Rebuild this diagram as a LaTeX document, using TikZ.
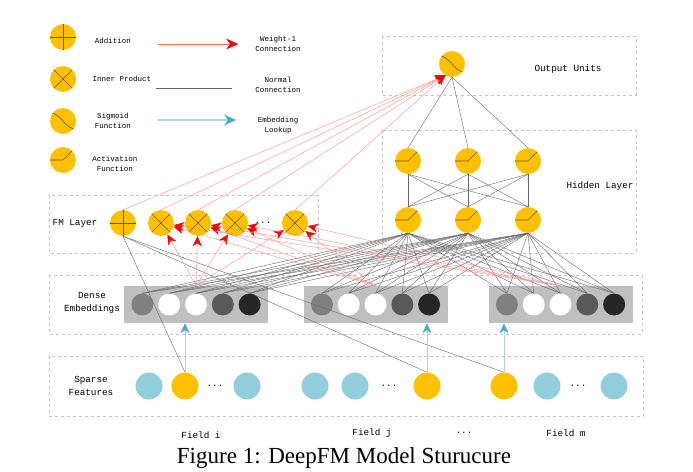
\documentclass[tikz,border=0pt]{standalone}
\usepackage{fontspec}
\setmainfont{Liberation Serif}
\setmonofont{Liberation Mono}
\usetikzlibrary{shapes,positioning,arrows.meta}
\definecolor{unitorange}{RGB}{255,192,0}
\definecolor{unitline}{RGB}{110,85,10}
\definecolor{sparseblue}{RGB}{146,205,220}
\definecolor{lookupblue}{RGB}{75,172,198}
\definecolor{lookupline}{RGB}{170,215,228}
\definecolor{boxgray}{RGB}{195,195,195}
\definecolor{bargray}{RGB}{191,191,191}

\begin{document}
\begin{tikzpicture}[x=1pt, y=-1pt,
         unit/.style={circle, fill=unitorange, minimum size=26pt, inner sep=0pt},
         addunit/.style={unit, path picture={\draw[unitline, line width=0.6pt] (path picture bounding box.west) -- (path picture bounding box.east) (path picture bounding box.north) -- (path picture bounding box.south);}},
         produnit/.style={unit, path picture={\draw[unitline, line width=0.6pt] (path picture bounding box.north west) -- (path picture bounding box.south east) (path picture bounding box.north east) -- (path picture bounding box.south west);}},
         sigunit/.style={unit, path picture={\draw[unitline, line width=0.6pt, shift={(path picture bounding box.center)}] (-13pt,8pt) .. controls (-1pt,8pt) and (1pt,-8pt) .. (13pt,-8pt);}},
         actunit/.style={unit, path picture={\draw[unitline, line width=0.6pt] (path picture bounding box.west) -- (path picture bounding box.center) -- ++(45:15pt);}},
         denseunit/.style={circle, minimum size=22pt, inner sep=0pt},
         sparseunit/.style={circle, minimum size=27pt, inner sep=0pt, fill=sparseblue},
         hotunit/.style={sparseunit, fill=unitorange},
         embbar/.style={fill=bargray, minimum width=144pt, minimum height=37pt, inner sep=0pt},
         layerbox/.style={draw=boxgray, dashed, line width=0.5pt},
         normalline/.style={draw=black!60, line width=0.4pt},
         weightone/.style={draw=red!45, line width=0.4pt, -{Stealth[length=10pt, width=9pt, inset=3pt, color=red]}},
         lookup/.style={draw=lookupline, line width=0.8pt, -{Stealth[length=10pt, width=9pt, inset=3pt, color=lookupblue]}},
         legendtext/.style={font=\ttfamily\fontsize{7.5}{10}\selectfont, align=center},
         labeltext/.style={font=\ttfamily\fontsize{9.3}{13}\selectfont, align=center}]
         \useasboundingbox (0,0) rectangle (693,471);
         \draw [layerbox] (382,36) rectangle (636,95);
         \draw [layerbox] (382,130) rectangle (636,253);
         \draw [layerbox] (49,195) rectangle (318,253);
         \draw [layerbox] (49,275) rectangle (642,334);
         \draw [layerbox] (49,356) rectangle (643,416);

         \node [addunit] (lgadd) at (63,37) {};
         \node [produnit] (lgprod) at (63,79) {};
         \node [sigunit] (lgsig) at (63,121) {};
         \node [actunit] (lgact) at (63,160) {};
         \node [legendtext] (lgaddtext) at (113,41) {Addition};
         \node [legendtext] (lgprodtext) at (122,79) {Inner Product};
         \node [legendtext] (lgsigtext) at (113,121) {Sigmoid\\Function};
         \node [legendtext] (lgacttext) at (115,164) {Activation\\Function};
         \coordinate (wstart) at (158,44);
         \coordinate (wend) at (238,44);
         \coordinate (nstart) at (156,88);
         \coordinate (nend) at (232,88);
         \coordinate (lstart) at (158,120);
         \coordinate (lend) at (236,120);
         \draw [draw=red!60, line width=0.8pt, -{Stealth[length=12pt, width=11pt, inset=4pt, color=red]}] (wstart) -- (wend);
         \draw [draw=black!60, line width=0.8pt] (nstart) -- (nend);
         \draw [draw=lookupline, line width=1.2pt, -{Stealth[length=12pt, width=11pt, inset=4pt, color=lookupblue]}] (lstart) -- (lend);
         \node [legendtext] (wtext) at (278,44) {Weight-1\\Connection};
         \node [legendtext] (ntext) at (278,85) {Normal\\Connection};
         \node [legendtext] (ltext) at (278,126) {Embedding\\Lookup};

         \node [sigunit] (out) at (452,64) {};
         \node [labeltext] (outlabel) at (568,69) {Output Units};
         \node [actunit] (h21) at (408,161) {};
         \node [actunit] (h22) at (468,161) {};
         \node [actunit] (h23) at (528,161) {};
         \node [actunit] (h11) at (408,220) {};
         \node [actunit] (h12) at (468,220) {};
         \node [actunit] (h13) at (528,220) {};
         \node [labeltext] (hiddenlabel) at (600,186) {Hidden Layer};

         \node [labeltext] (fmlabel) at (75,223) {FM Layer};
         \node [addunit] (fmadd) at (123,223) {};
         \node [produnit] (fm1) at (161,223) {};
         \node [produnit] (fm2) at (198,223) {};
         \node [produnit] (fm3) at (235,223) {};
         \node [labeltext] (fmdots) at (263,223) {...};
         \node [produnit] (fm4) at (295,223) {};

         \node [labeltext] (denselabel) at (92,303) {Dense\\Embeddings};
         \node [embbar] (emb1) at (196,304.5) {};
         \node [embbar] (emb2) at (375.5,304.5) {};
         \node [embbar] (emb3) at (560.5,304.5) {};
         \foreach \g in {1,2,3} {
            \foreach \i/\shade in {1/black!50, 2/white, 3/white, 4/black!65, 5/black!85} {
               \node [denseunit, fill=\shade] (d\g\i) at ([xshift={(\i-3)*26.8pt}]emb\g.center) {};
            }
         }

         \node [labeltext] (sparselabel) at (91,386) {Sparse\\Features};
         \node [sparseunit] (s1) at (149,386) {};
         \node [hotunit] (s2) at (185,386) {};
         \node [labeltext] (sdots1) at (215,386) {...};
         \node [sparseunit] (s3) at (247,386) {};
         \node [sparseunit] (s4) at (315,386) {};
         \node [sparseunit] (s5) at (355,386) {};
         \node [labeltext] (sdots2) at (389,386) {...};
         \node [hotunit] (s6) at (427,386) {};
         \node [hotunit] (s7) at (504,386) {};
         \node [sparseunit] (s8) at (547,386) {};
         \node [labeltext] (sdots3) at (578,386) {...};
         \node [sparseunit] (s9) at (614,386) {};

         \node [labeltext] (fieldi) at (201,435) {Field i};
         \node [labeltext] (fieldj) at (372,433) {Field j};
         \node [labeltext] (fielddots) at (464,433) {...};
         \node [labeltext] (fieldm) at (566,433) {Field m};
         \node [font=\fontsize{23}{27}\selectfont, anchor=base] (caption) at (344,463) {Figure 1: DeepFM Model Sturucure};

         \foreach \t in {h21,h22,h23}
            \draw [normalline] (\t.north) -- (out.south);
         \foreach \b in {h11,h12,h13}
            \foreach \t in {h21,h22,h23}
               \draw [normalline] (\b.north) -- (\t.south);
         \foreach \g in {1,2,3}
            \foreach \i in {1,...,5}
               \foreach \h in {h11,h12,h13}
                  \draw [normalline] (\h.south) -- (d\g\i.north);
         \foreach \s in {s2,s6,s7}
            \draw [normalline] (fmadd.south) -- (\s.north);
         \foreach \f in {fmadd,fm1,fm2,fm3,fm4}
            \draw [weightone] (\f.north) -- (out.240);
         \foreach \g in {1,2,3}
            \foreach \f in {fm1,fm2,fm3,fm4}
               \draw [weightone] (emb\g.north) -- (\f);
         \foreach \s/\g in {s2/1,s6/2,s7/3}
            \draw [lookup] (\s.north) -- (\s.north |- emb\g.south);
\end{tikzpicture}
\end{document}
